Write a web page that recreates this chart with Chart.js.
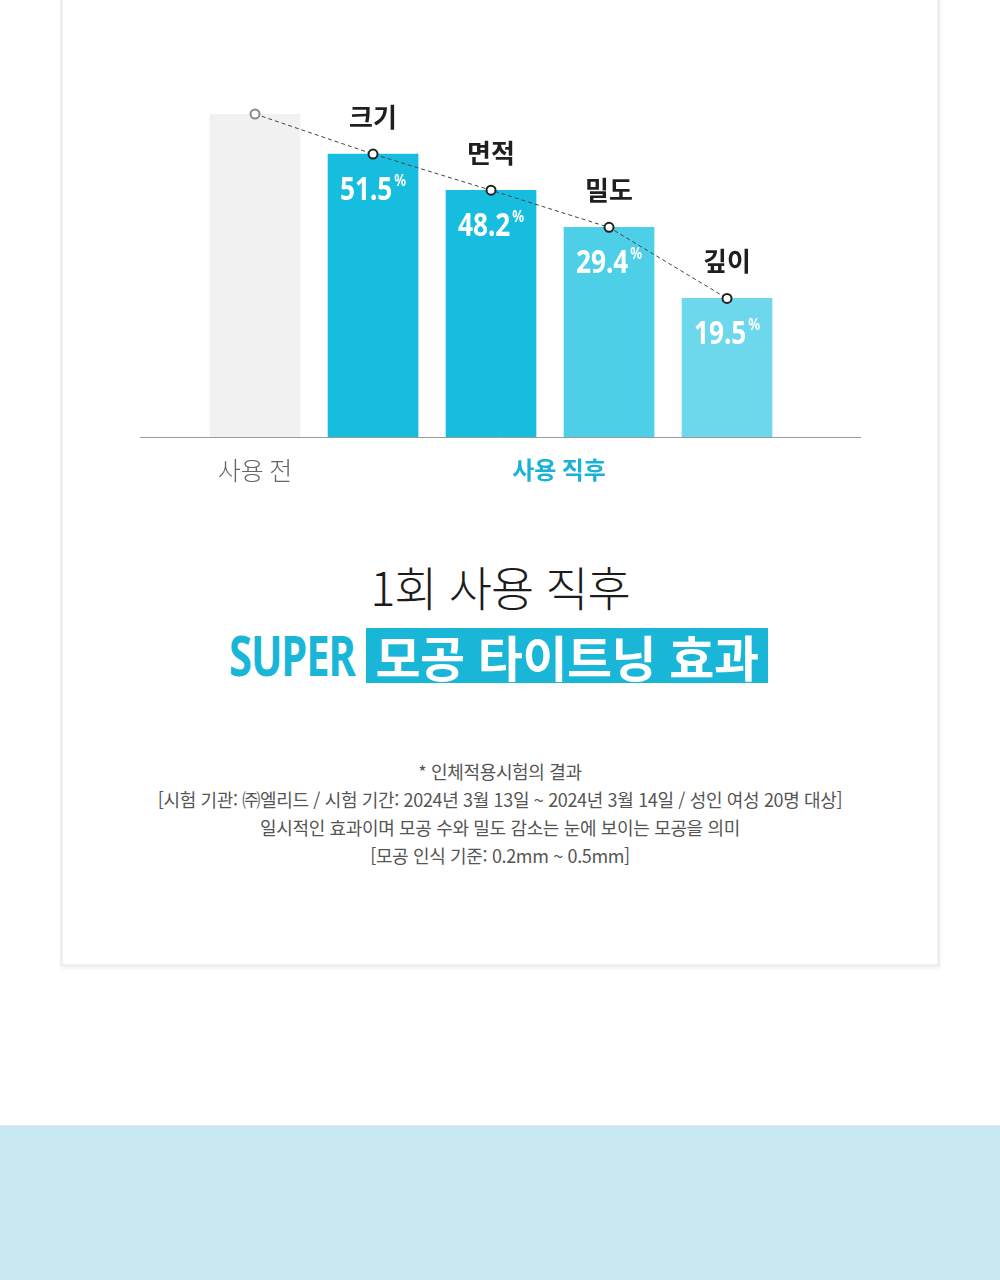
<!DOCTYPE html>
<html lang="ko">
<head>
<meta charset="utf-8">
<script src="https://cdn.jsdelivr.net/npm/chart.js@4"></script>
<style>
  html, body { margin: 0; padding: 0; background: #fff; }
  body { width: 1000px; height: 1280px; position: relative; overflow: hidden; font-family: "Noto Sans CJK KR", "Noto Sans", sans-serif; }
  .frame { position: absolute; left: 60px; top: -10px; width: 874px; height: 971px; border: 3px solid #efefef; box-shadow: 1px 2px 3px rgba(0,0,0,0.04); }
  #wrap { position: absolute; left: 0; top: 0; width: 1000px; height: 520px; }
  .txt { position: absolute; left: 0; width: 1000px; text-align: center; white-space: nowrap; }
  .title { top: 556px; font-size: 47px; font-weight: 300; color: #1c1c1c; letter-spacing: -1px; line-height: 60px; }
  .super { position: absolute; left: 229px; top: 620px; font-family: "Noto Sans", sans-serif; font-weight: 700; font-size: 55px; line-height: 70px; color: #1ab6d8; letter-spacing: -1.5px; transform: scaleX(0.76); transform-origin: left center; white-space: nowrap; }
  .box { position: absolute; left: 366px; top: 628px; width: 402px; height: 55px; background: #1ab6d8; color: #fff; font-weight: 700; font-size: 49px; line-height: 55px; text-align: center; letter-spacing: -0.5px; white-space: nowrap; }
  .note { font-size: 18px; color: #555; letter-spacing: -0.35px; line-height: 28px; top: 757px; }
  .band { position: absolute; left: 0; top: 1125px; width: 1000px; height: 155px; background: #c9e9f2; border-top: 1px solid #dde8ec; }
</style>
</head>
<body>
<div class="frame"></div>
<div id="wrap"><canvas id="c" width="1000" height="520"></canvas></div>
<div class="txt title">1회 사용 직후</div>
<div class="super">SUPER</div>
<div class="box">모공 타이트닝 효과</div>
<div class="txt note">* 인체적용시험의 결과<br>[시험 기관: ㈜엘리드 / 시험 기간: 2024년 3월 13일 ~ 2024년 3월 14일 / 성인 여성 20명 대상]<br>일시적인 효과이며 모공 수와 밀도 감소는 눈에 보이는 모공을 의미<br>[모공 인식 기준: 0.2mm ~ 0.5mm]</div>
<div class="band"></div>
<script>
// ---- data ----
const categories = ["사용 전", "크기", "면적", "밀도", "깊이"];
const barHeights = [100, 87.6, 76.4, 64.9, 42.9];      // relative bar heights
const percentLabels = [null, "51.5", "48.2", "29.4", "19.5"];
const groupLabels = ["사용 전", "사용 직후"];
const barColors = ["#f1f1f1", "#17bddf", "#17bddf", "#4ccfe7", "#6dd7eb"];
const pointBorders = ["#8a8a8a", "#222", "#222", "#222", "#222"];

const barData = barHeights.map((v, i) => ({ x: i, y: v }));

const NUM_FONT = "'Noto Sans', 'DejaVu Sans', sans-serif";
const labelPlugin = {
  id: "labels",
  afterDatasetsDraw(chart) {
    const ctx = chart.ctx;
    const bars = chart.getDatasetMeta(0).data;
    const xs = chart.scales.x;
    const sx = 0.82;
    ctx.save();
    bars.forEach((b, i) => {
      if (i > 0) {
        ctx.font = "700 26px 'Noto Sans CJK KR'";
        ctx.fillStyle = "#1f1f1f";
        ctx.textAlign = "center";
        ctx.textBaseline = "middle";
        ctx.fillText(categories[i], b.x, b.y - 37);
        const num = percentLabels[i];
        ctx.font = "700 32px " + NUM_FONT;
        const w1 = ctx.measureText(num).width * sx;
        ctx.font = "700 16px " + NUM_FONT;
        const w2 = ctx.measureText("%").width * sx;
        const start = b.x - (w1 + w2 + 2) / 2;
        ctx.save();
        ctx.translate(start, 0);
        ctx.scale(sx, 1);
        ctx.fillStyle = "#fff";
        ctx.textAlign = "left";
        ctx.textBaseline = "alphabetic";
        ctx.font = "700 32px " + NUM_FONT;
        ctx.fillText(num, 0, b.y + 46);
        ctx.font = "700 16px " + NUM_FONT;
        ctx.fillText("%", (w1 + 2) / sx, b.y + 32);
        ctx.restore();
      }
    });
    const base = chart.scales.y.getPixelForValue(0);
    ctx.textAlign = "center";
    ctx.textBaseline = "middle";
    ctx.font = "300 25px 'Noto Sans CJK KR'";
    ctx.fillStyle = "#666";
    ctx.fillText(groupLabels[0], xs.getPixelForValue(0), base + 33);
    ctx.font = "700 24px 'Noto Sans CJK KR'";
    ctx.fillStyle = "#1ab3d6";
    ctx.fillText(groupLabels[1], (xs.getPixelForValue(2) + xs.getPixelForValue(3)) / 2 + 9, base + 33);
    ctx.restore();
  }
};

new Chart(document.getElementById("c"), {
  data: {
    datasets: [
      {
        type: "bar",
        data: barData,
        backgroundColor: barColors,
        barThickness: 90,
        borderWidth: 0,
        order: 2
      },
      {
        type: "line",
        data: barData,
        borderColor: "#444",
        borderWidth: 1,
        borderDash: [4, 3],
        pointRadius: 4.5,
        pointBackgroundColor: "#fff",
        pointBorderColor: pointBorders,
        pointBorderWidth: 2,
        clip: false,
        order: 1
      }
    ]
  },
  options: {
    responsive: false,
    animation: false,
    events: [],
    layout: { padding: { left: 140, right: 140, top: 114, bottom: 83 } },
    plugins: { legend: { display: false }, tooltip: { enabled: false } },
    scales: {
      x: {
        type: "linear",
        offset: false,
        min: -0.975,
        max: 5.127,
        grid: { display: false, drawTicks: false },
        border: { display: true, color: "#9a9a9a", width: 1 },
        ticks: { display: false }
      },
      y: {
        display: false,
        min: 0,
        max: 100
      }
    }
  },
  plugins: [labelPlugin]
});
</script>
</body>
</html>
